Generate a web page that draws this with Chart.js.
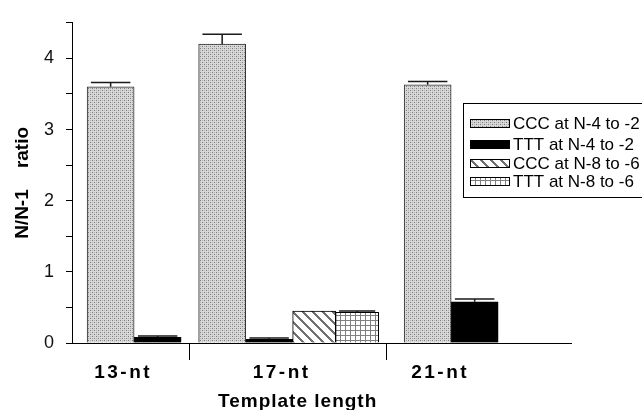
<!DOCTYPE html>
<html>
<head>
<meta charset="utf-8">
<script src="https://cdn.jsdelivr.net/npm/chart.js@4/dist/chart.umd.min.js"></script>
<style>
  html, body { margin: 0; padding: 0; background: #fff; }
  #wrap { width: 642px; height: 410px; }
</style>
</head>
<body>
<div id="wrap"><canvas id="chart" width="642" height="410"></canvas></div>
<script>
const CATEGORIES = ["13-nt", "17-nt", "21-nt"];
const SERIES = ["CCC at N-4 to -2", "TTT at N-4 to -2", "CCC at N-8 to -6", "TTT at N-8 to -6"];

const CCC_4 = [3.60, 4.20, 3.63];
const CCC_4_ERR = [0.06, 0.14, 0.045];
const TTT_4 = [0.08, 0.05, 0.58];
const TTT_4_ERR = [0.02, 0.02, 0.04];
const CCC_8 = [null, 0.45, null];
const CCC_8_ERR = [null, 0, null];
const TTT_8 = [null, 0.43, null];
const TTT_8_ERR = [null, 0.02, null];

const Y_TICKS = [0, 1, 2, 3, 4];

// where the little divider marks hang off the x axis (in category units)
const DIVIDERS = [0.352, 1.589];

const FONT = "'Liberation Sans', Arial, sans-serif";

// ---------- fill patterns ----------
function makePattern(size, paint) {
  const c = document.createElement("canvas");
  c.width = size;
  c.height = size;
  const g = c.getContext("2d");
  g.fillStyle = "#fff";
  g.fillRect(0, 0, size, size);
  for (let y = 0; y < size; y++) {
    for (let x = 0; x < size; x++) {
      const col = paint(x, y);
      if (col) {
        g.fillStyle = col;
        g.fillRect(x, y, 1, 1);
      }
    }
  }
  return document.getElementById("chart").getContext("2d").createPattern(c, "repeat");
}

const DOTS = ["#7a7a7a", "#d6d6d6", "#b4b4b4", "#dcdcdc"];
const stipple = makePattern(4, (x, y) => {
  if ((x === 0 && y === 0) || (x === 2 && y === 2)) return DOTS[0];
  if ((x === 2 && y === 0) || (x === 0 && y === 2)) return DOTS[2];
  return (x + y) % 2 ? DOTS[1] : DOTS[3];
});
const diagonal = makePattern(10, (x, y) => ((x - y + 10) % 10 < 3 ? "#707070" : null));
const grid = makePattern(5, (x, y) => (x === 0 || y === 0 ? "#808080" : null));

const toPoints = (vals) => vals.map((v, i) => ({ x: i, y: v }));

const ERRORS = [CCC_4_ERR, TTT_4_ERR, CCC_8_ERR, TTT_8_ERR];

const errorBars = {
  id: "errorBars",
  afterDatasetsDraw(chart) {
    const ctx = chart.ctx;
    const y = chart.scales.y;
    ctx.save();
    ctx.strokeStyle = "#1a1a1a";
    ctx.lineWidth = 1.5;
    chart.data.datasets.forEach((ds, di) => {
      const meta = chart.getDatasetMeta(di);
      meta.data.forEach((bar, i) => {
        const v = ds.data[i].y;
        const e = ERRORS[di][i];
        if (v == null || !e) return;
        const top = y.getPixelForValue(v + e);
        const half = bar.width * 0.42;
        ctx.beginPath();
        ctx.moveTo(bar.x, bar.y);
        ctx.lineTo(bar.x, top);
        ctx.moveTo(bar.x - half, top);
        ctx.lineTo(bar.x + half, top);
        ctx.stroke();
      });
    });
    ctx.restore();
    // x tick labels are drawn after this hook (ticks.z = 1): space them out
    ctx.letterSpacing = "2.5px";
  },
  afterDraw(chart) {
    const ctx = chart.ctx;
    const x = chart.scales.x;
    ctx.save();
    // axis title
    ctx.letterSpacing = "1px";
    ctx.fillStyle = "#000";
    ctx.font = "bold 19px " + FONT;
    ctx.textAlign = "center";
    ctx.textBaseline = "alphabetic";
    ctx.fillText("Template length", x.getPixelForValue(1) + 5, 407);

    // legend
    ctx.letterSpacing = "0px";
    const left = 463.5, top = 103.5;
    ctx.fillStyle = "#fff";
    ctx.fillRect(left, top, 200, 94);
    ctx.strokeStyle = "#000";
    ctx.lineWidth = 1;
    ctx.strokeRect(left, top, 200, 94);
    const rows = [20, 41, 60, 78];
    ctx.font = "17px " + FONT;
    ctx.textAlign = "left";
    ctx.textBaseline = "middle";
    chart.data.datasets.forEach((ds, i) => {
      const cy = top + rows[i];
      ctx.fillStyle = ds.backgroundColor;
      ctx.fillRect(470, Math.round(cy - 4.5), 40, 9);
      ctx.strokeStyle = "#000";
      ctx.strokeRect(470.5, Math.round(cy - 4.5) + 0.5, 39, 8);
      ctx.fillStyle = "#000";
      ctx.fillText(ds.label, 513, cy + 1);
    });
    ctx.restore();
    ctx.letterSpacing = "0px";
  },
};

new Chart(document.getElementById("chart"), {
  type: "bar",
  data: {
    datasets: [
      {
        label: SERIES[0],
        data: toPoints(CCC_4),
        backgroundColor: stipple,
        borderColor: "#333",
        borderWidth: 1,
        barThickness: 47,
      },
      {
        label: SERIES[1],
        data: toPoints(TTT_4),
        backgroundColor: "#000",
        borderColor: "#000",
        borderWidth: 1,
        barThickness: 47,
      },
      {
        label: SERIES[2],
        data: toPoints(CCC_8),
        backgroundColor: diagonal,
        borderColor: "#000",
        borderWidth: 1,
        barThickness: 43,
      },
      {
        label: SERIES[3],
        data: toPoints(TTT_8),
        backgroundColor: grid,
        borderColor: "#000",
        borderWidth: 1,
        barThickness: 43,
      },
    ],
  },
  options: {
    responsive: false,
    animation: false,
    skipNull: true,
    layout: { padding: { left: 0, right: 71, top: 15, bottom: 0 } },
    plugins: {
      legend: { display: false },
      tooltip: { enabled: false },
    },
    scales: {
      x: {
        type: "linear",
        min: -0.392,
        max: 2.756,
        offset: false,
        afterBuildTicks: (scale) => {
          scale.ticks = [0, DIVIDERS[0], 1, DIVIDERS[1], 2].map((v) => ({ value: v }));
        },
        afterFit: (scale) => {
          scale.height = 67;
        },
        border: { color: "#000", width: 1 },
        grid: {
          offset: false,
          drawOnChartArea: false,
          tickLength: 17,
          color: (c) => (c.tick && DIVIDERS.includes(c.tick.value) ? "#000" : "rgba(0,0,0,0)"),
        },
        ticks: {
          z: 1,
          autoSkip: false,
          maxRotation: 0,
          padding: 1,
          labelOffset: -11,
          color: "#000",
          font: { family: FONT, size: 19, weight: "bold" },
          callback: (v) => (Number.isInteger(v) ? CATEGORIES[v] : ""),
        },
      },
      y: {
        min: 0,
        max: 4.5,
        afterFit: (scale) => {
          scale.width = 72;
        },
        border: { color: "#000", width: 1 },
        grid: {
          drawOnChartArea: false,
          tickLength: 6,
          color: "#000",
        },
        ticks: {
          stepSize: 0.5,
          padding: 12,
          color: "#111",
          font: { family: FONT, size: 18 },
          callback: (v) => (Y_TICKS.includes(v) ? String(v) : ""),
        },
        title: {
          display: true,
          text: "N/N-1    ratio",
          color: "#000",
          padding: { top: 11, bottom: 0 },
          font: { family: FONT, size: 19, weight: "bold" },
        },
      },
    },
  },
  plugins: [errorBars],
});
</script>
</body>
</html>
